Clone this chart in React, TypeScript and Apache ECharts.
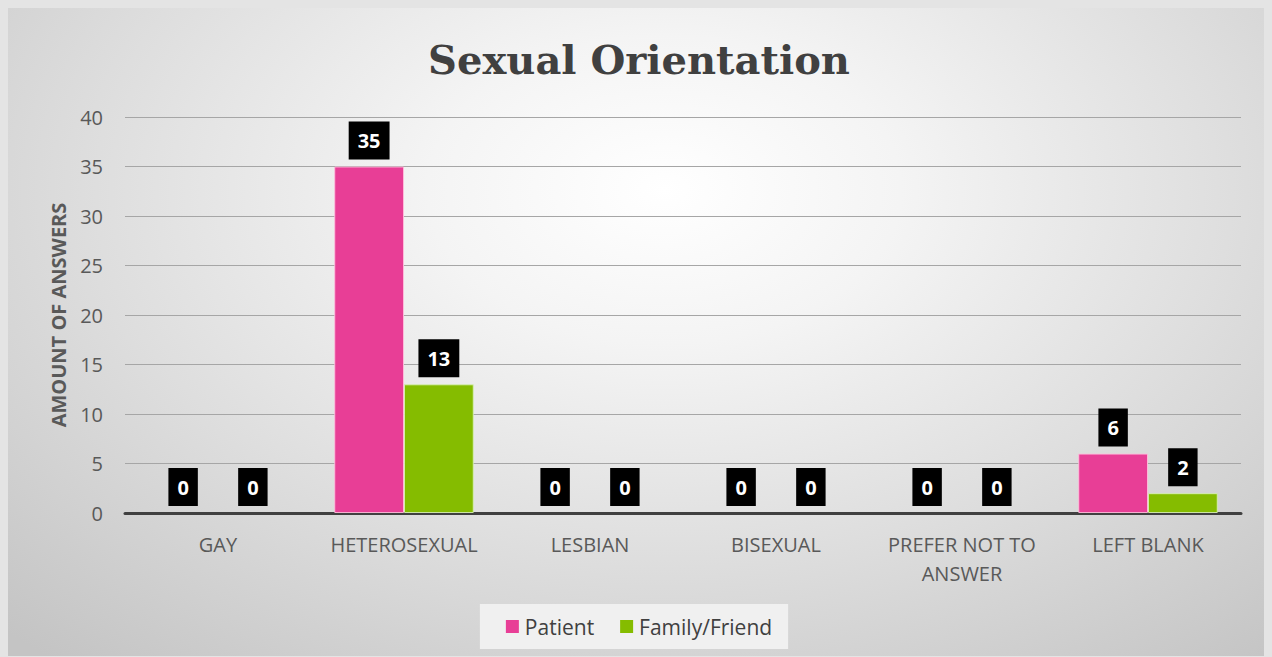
import React, { useEffect, useRef } from "react";
import * as echarts from "echarts";

const categories = ["GAY", "HETEROSEXUAL", "LESBIAN", "BISEXUAL", "PREFER NOT TO\nANSWER", "LEFT BLANK"];
const patientValues = [0, 35, 0, 0, 0, 6];
const familyValues = [0, 13, 0, 0, 0, 2];
const seriesNames = ["Patient", "Family/Friend"];
const titleText = "Sexual Orientation";
const yAxisName = "AMOUNT OF ANSWERS";

const FONT = "'Open Sans', 'Noto Sans', sans-serif";

export default function App() {
  const ref = useRef<HTMLDivElement>(null);
  useEffect(() => {
    document.body.style.background = "#e4e4e4";
    const chart = echarts.init(ref.current!, null, { renderer: "svg" });
    const label = {
      show: true,
      position: "top",
      distance: 7,
      backgroundColor: "#000000",
      color: "#ffffff",
      fontFamily: FONT,
      fontWeight: "bold",
      fontSize: 20,
      lineHeight: 22,
      padding: [8, 9, 8, 9],
    };
    const withBorder = (vals: number[], border: string) =>
      vals.map((v) => ({ value: v, itemStyle: v > 0 ? { borderColor: border, borderWidth: 1 } : { borderWidth: 0 } }));
    chart.setOption({
      animation: false,
      backgroundColor: "transparent",
      title: {
        text: titleText,
        left: "center",
        top: 26,
        textStyle: {
          fontFamily: "'DejaVu Serif', serif",
          fontWeight: "bold",
          fontSize: 40,
          color: "#404040",
        },
      },
      grid: { left: 117, right: 29, top: 109, bottom: 143, containLabel: false },
      legend: {
        bottom: 7,
        left: "center",
        data: seriesNames,
        backgroundColor: "#f0f0f0",
        padding: [12, 16, 12, 26],
        itemGap: 26,
        itemWidth: 13,
        itemHeight: 13,
        icon: "rect",
        textStyle: { fontFamily: FONT, fontSize: 21, color: "#404040", padding: [0, 0, 0, 1] },
      },
      xAxis: {
        type: "category",
        data: categories,
        axisLine: { lineStyle: { color: "#404040", width: 3 } },
        axisTick: { show: false },
        axisLabel: {
          fontFamily: FONT,
          fontSize: 20,
          lineHeight: 29,
          color: "#595959",
          margin: 17,
          interval: 0,
        },
      },
      yAxis: {
        type: "value",
        min: 0,
        max: 40,
        interval: 5,
        name: yAxisName,
        nameLocation: "middle",
        nameGap: 57,
        nameTextStyle: { fontFamily: FONT, fontSize: 20, fontWeight: "bold", color: "#595959" },
        axisLine: { show: false },
        axisTick: { show: false },
        axisLabel: { fontFamily: FONT, fontSize: 20, color: "#595959", margin: 22 },
        splitLine: { lineStyle: { color: "#a6a6a6", width: 1 } },
      },
      series: [
        {
          name: seriesNames[0],
          type: "bar",
          data: withBorder(patientValues, "rgba(255,190,220,0.9)"),
          barGap: "0%",
          barCategoryGap: "25%",
          itemStyle: { color: "#E83E96" },
          label,
        },
        {
          name: seriesNames[1],
          type: "bar",
          data: withBorder(familyValues, "rgba(215,240,180,0.9)"),
          itemStyle: { color: "#85BC00" },
          label,
        },
      ],
    });
    return () => chart.dispose();
  }, []);
  return (
    <div
      ref={ref}
      style={{
        width: 1262,
        height: 648,
        background:
          "radial-gradient(ellipse 75% 95% at 52% 28%, #ffffff 0%, #f4f4f4 25%, #dedede 60%, #c4c4c4 100%)",
      }}
    />
  );
}
